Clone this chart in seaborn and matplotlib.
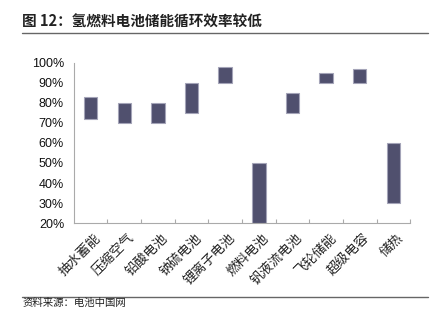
import matplotlib
matplotlib.use("Agg")
import matplotlib.pyplot as plt
import seaborn as sns
import numpy as np
import pandas as pd
from matplotlib.ticker import FixedLocator, FuncFormatter

categories = ["抽水蓄能", "压缩空气", "铅酸电池", "钠硫电池", "锂离子电池",
              "燃料电池", "钒液流电池", "飞轮储能", "超级电容", "储热"]
low_values = [72, 70, 70, 75, 90, 20, 75, 90, 90, 30]
high_values = [83, 80, 80, 90, 98, 50, 85, 95, 97, 60]
y_ticks = [20, 30, 40, 50, 60, 70, 80, 90, 100]

sns.set_theme(style="white")
plt.rcParams['font.family'] = ['Noto Sans CJK SC', 'DejaVu Sans']

df = pd.DataFrame({"cat": categories,
                   "low": low_values,
                   "span": np.array(high_values) - np.array(low_values)})

fig = plt.figure(figsize=(4.42, 3.29), dpi=100)
ax = fig.add_axes([0.167, 0.322, 0.761, 0.487])

sns.barplot(data=df, x="cat", y="span", bottom=df["low"].values, ax=ax,
            color="#50506e", saturation=1, width=0.4,
            edgecolor="#a4a4b8", linewidth=0.8)

ax.set_ylim(20, 100)
ax.set_xlim(-0.5, len(categories) - 0.5)
ax.set_yticks(y_ticks)
ax.yaxis.set_major_formatter(FuncFormatter(lambda v, p: f"{int(v)}%"))
for lab in ax.get_yticklabels():
    lab.set_family(['Liberation Sans', 'DejaVu Sans'])
    lab.set_fontsize(9)
    lab.set_color("#111111")
ax.tick_params(axis="y", length=0, pad=7)

ax.set_xticks(np.arange(len(categories)) + 0.1)
ax.set_xticklabels(categories, rotation=45, ha="right", rotation_mode="anchor",
                   fontsize=9.5, color="#222222")
ax.xaxis.set_minor_locator(FixedLocator(np.arange(0.5, len(categories), 1.0)))
ax.tick_params(axis="x", which="major", length=0, pad=6)
ax.tick_params(axis="x", which="minor", direction="in", length=3, color="#aaaaaa", width=0.8, bottom=True)

ax.set_xlabel("")
ax.set_ylabel("")
for s in ["top", "right"]:
    ax.spines[s].set_visible(False)
for s in ["left", "bottom"]:
    ax.spines[s].set_color("#aaaaaa")
    ax.spines[s].set_linewidth(0.8)

fig.text(0.05, 0.935, "图 12：氢燃料电池储能循环效率较低", fontsize=10.5, fontweight="bold",
         color="#222222", va="center", ha="left")
fig.add_artist(plt.Line2D([0.05, 0.968], [0.9, 0.9], color="#666666", linewidth=1))
fig.add_artist(plt.Line2D([0.05, 0.968], [0.098, 0.098], color="#666666", linewidth=1))
fig.text(0.05, 0.078, "资料来源：电池中国网", fontsize=7.5, color="#222222", va="center", ha="left")

fig.savefig("out.png", dpi=100)
